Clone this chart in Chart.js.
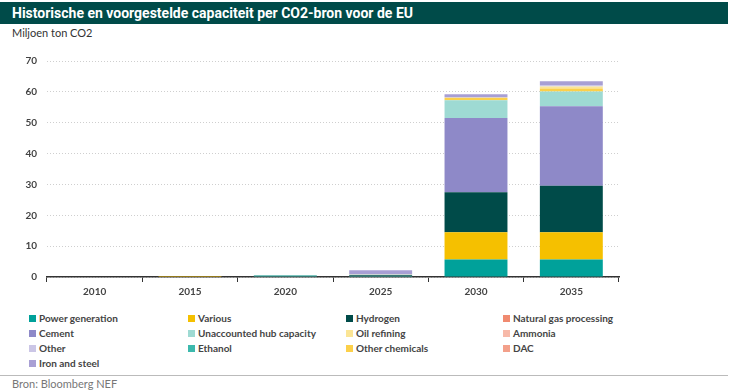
<!DOCTYPE html>
<html>
<head>
<meta charset="utf-8">
<script src="https://cdn.jsdelivr.net/npm/chart.js@4.4.1/dist/chart.umd.min.js"></script>
<style>
  body { margin: 0; width: 732px; height: 392px; background: #fff; position: relative; overflow: hidden; font-family: Lato, "Open Sans", sans-serif; }
  #title { position: absolute; left: 0; top: 2px; width: 728px; height: 22px; background: #004b49; color: #fff;
           font: bold 14px "Liberation Sans Narrow", "Roboto", sans-serif; line-height: 22px; padding-left: 12px; box-sizing: border-box; }
  #unit { position: absolute; left: 12px; top: 26px; font-size: 11px; color: #333; }
  #wrap { position: absolute; left: 0; top: 45px; width: 640px; height: 257px; }
  #legend { position: absolute; left: 0; top: 311px; width: 732px; }
  .item { position: absolute; font-size: 10px; font-weight: bold; color: #444; white-space: nowrap; line-height: 14px; }
  .item span { display: inline-block; width: 7px; height: 7px; margin-right: 3px; vertical-align: -0px; }
  #rule { position: absolute; left: 0; top: 375px; width: 728px; border-top: 1px solid #bbb; }
  #source { position: absolute; left: 12px; top: 377px; font-size: 11px; color: #777; }
</style>
</head>
<body>
<div id="title">Historische en voorgestelde capaciteit per CO2-bron voor de EU</div>
<div id="unit">Miljoen ton CO2</div>
<div id="wrap"><canvas id="chart"></canvas></div>
<div id="legend"></div>
<div id="rule"></div>
<div id="source">Bron: Bloomberg NEF</div>
<script>
// jaren
const years = ["2010", "2015", "2020", "2025", "2030", "2035"];

// waarden per bron (miljoen ton CO2)
const powerGeneration = [0, 0, 0, 0.2, 5.7, 5.7];
const ethanol = [0, 0, 0.5, 0.1, 0, 0];
const various = [0, 0.3, 0, 0, 8.8, 8.8];
const hydrogen = [0, 0, 0.1, 0.3, 13.0, 15.1];
const naturalGasProcessing = [0, 0, 0, 0, 0, 0];
const cement = [0, 0, 0, 0, 24.0, 25.7];
const unaccountedHub = [0, 0, 0, 0.1, 5.8, 4.8];
const otherChemicals = [0, 0, 0, 0, 0.8, 1.0];
const oilRefining = [0, 0, 0, 0.1, 0, 0.6];
const ammonia = [0, 0, 0, 0, 0, 0];
const dac = [0, 0, 0, 0, 0, 0];
const other = [0, 0, 0, 0, 0.2, 0.5];
const ironAndSteel = [0, 0, 0, 1.4, 0.9, 1.2];

// volgorde van de stapel (van onder naar boven)
const series = [
    { label: "Power generation", data: powerGeneration, color: "#00a19a" },
    { label: "Ethanol", data: ethanol, color: "#3cb9ad" },
    { label: "Various", data: various, color: "#f5c000" },
    { label: "Hydrogen", data: hydrogen, color: "#004b49" },
    { label: "Natural gas processing", data: naturalGasProcessing, color: "#f08a70" },
    { label: "Cement", data: cement, color: "#8e89c8" },
    { label: "Unaccounted hub capacity", data: unaccountedHub, color: "#9edad3" },
    { label: "Other chemicals", data: otherChemicals, color: "#fcd04a" },
    { label: "Oil refining", data: oilRefining, color: "#fbe595" },
    { label: "Ammonia", data: ammonia, color: "#f7b9a9" },
    { label: "DAC", data: dac, color: "#f3a08a" },
    { label: "Other", data: other, color: "#cbc6e6" },
    { label: "Iron and steel", data: ironAndSteel, color: "#a89fd4" },
];

// legenda zoals in het origineel (4 kolommen)
const legendOrder = [
    "Power generation", "Various", "Hydrogen", "Natural gas processing",
    "Cement", "Unaccounted hub capacity", "Oil refining", "Ammonia",
    "Other", "Ethanol", "Other chemicals", "DAC",
    "Iron and steel",
];
const legendCols = [29, 188, 346, 503];

const legendEl = document.getElementById("legend");
legendOrder.forEach((name, i) => {
    const s = series.find(x => x.label === name);
    const div = document.createElement("div");
    div.className = "item";
    div.style.left = legendCols[i % 4] + "px";
    div.style.top = (Math.floor(i / 4) * 15) + "px";
    div.innerHTML = '<span style="background:' + s.color + '"></span>' + name;
    legendEl.appendChild(div);
});

new Chart(document.getElementById("chart"), {
    type: "bar",
    data: {
        labels: years,
        datasets: series.map(s => ({
            label: s.label,
            data: s.data,
            backgroundColor: s.color,
            borderWidth: 0,
            barPercentage: 0.66,
            categoryPercentage: 1,
        })),
    },
    options: {
        responsive: true,
        maintainAspectRatio: false,
        animation: false,
        layout: { padding: { top: 1, right: 21, bottom: 0, left: 0 } },
        plugins: {
            legend: { display: false },
            tooltip: { enabled: false },
        },
        scales: {
            x: {
                stacked: true,
                grid: {
                    offset: true,
                    drawOnChartArea: false,
                    tickLength: 5,
                    color: "#333",
                },
                border: { color: "#333", width: 1.5 },
                ticks: { color: "#444", font: { family: "Lato", size: 10, weight: "bold" }, padding: 4 },
            },
            y: {
                stacked: true,
                min: 0,
                max: 70,
                ticks: { stepSize: 10, color: "#444", font: { family: "Lato", size: 10, weight: "bold" }, padding: 10 },
                grid: { color: "#cfcfcf", drawTicks: false, lineWidth: 1 },
                border: { display: false, dash: [1, 2] },
                afterFit: (axis) => { axis.width = 47; },
            },
        },
    },
});
</script>
</body>
</html>
